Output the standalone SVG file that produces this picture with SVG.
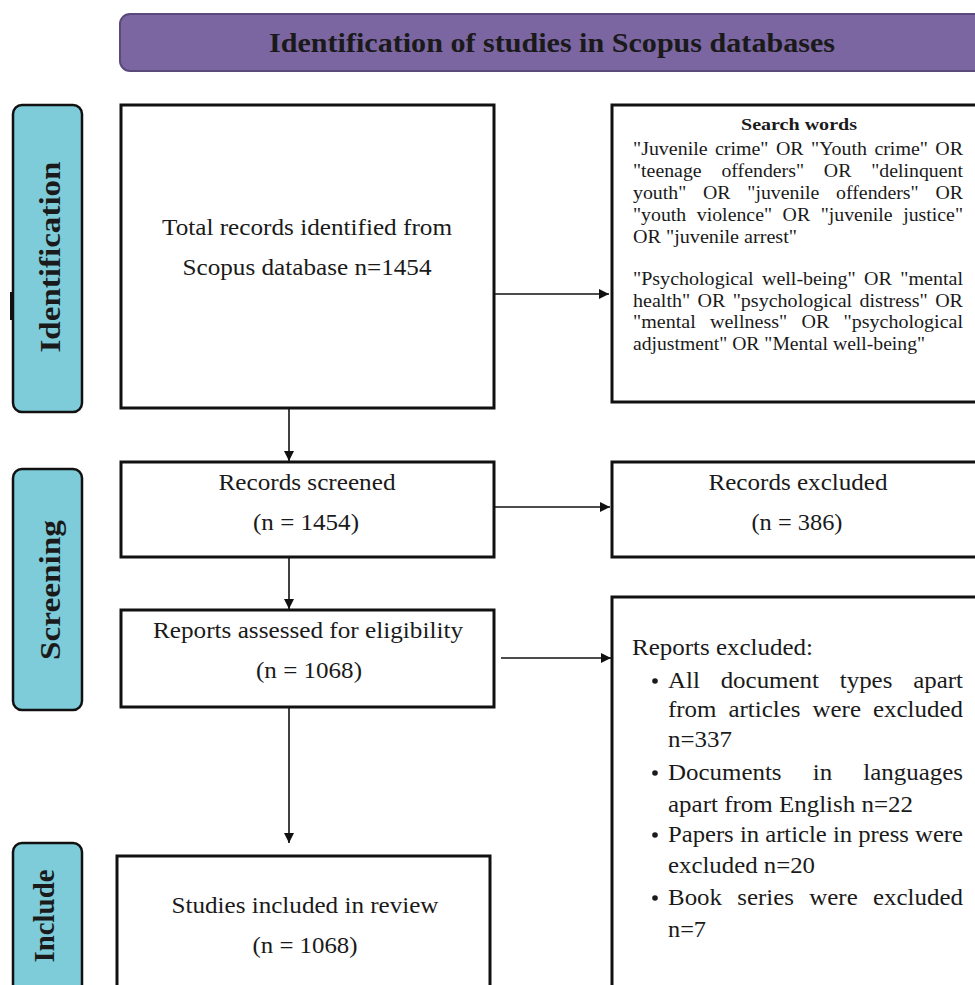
<svg xmlns="http://www.w3.org/2000/svg" width="975" height="985" viewBox="0 0 975 985">
<style>
  text { font-family: "Liberation Serif", "Times New Roman", serif; fill: #1a1a1a; }
  .box { fill: #ffffff; stroke: #111111; stroke-width: 3; }
  .stage { fill: #7ecbd9; stroke: #111111; stroke-width: 2.5; }
  .stagetxt { font-weight: bold; font-size: 30px; text-anchor: middle; }
  .mid { font-size: 22.5px; text-anchor: middle; }
  .sw { font-size: 18px; }
  .rep { font-size: 23px; }
  .conn { stroke: #111111; stroke-width: 1.6; fill: none; marker-end: url(#arr); }
</style>
<defs>
  <marker id="arr" viewBox="0 0 10 10" refX="10" refY="5" markerWidth="10" markerHeight="10" markerUnits="userSpaceOnUse" orient="auto">
    <path d="M0,0 L10,5 L0,10 z" fill="#111111"/>
  </marker>
</defs>
<rect width="975" height="985" fill="#ffffff"/>

<g id="banner">
  <rect x="120" y="14" width="870" height="57" rx="10" fill="#7b66a2" stroke="#5a4a7c" stroke-width="2"/>
  <text x="552" y="52" font-size="27" font-weight="bold" text-anchor="middle" textLength="566" lengthAdjust="spacingAndGlyphs">Identification of studies in Scopus databases</text>
</g>

<g id="stage-identification">
  <rect x="10" y="292" width="3" height="28" fill="#111111"/>
  <rect class="stage" x="13" y="105" width="69" height="307" rx="9"/>
  <text class="stagetxt" transform="translate(60,257) rotate(-90)" textLength="191" lengthAdjust="spacingAndGlyphs">Identification</text>
</g>
<g id="stage-screening">
  <rect class="stage" x="13" y="469" width="69" height="241" rx="9"/>
  <text class="stagetxt" transform="translate(60,590) rotate(-90)" textLength="140" lengthAdjust="spacingAndGlyphs">Screening</text>
</g>
<g id="stage-include">
  <rect class="stage" x="13" y="843" width="69" height="160" rx="9"/>
  <text class="stagetxt" transform="translate(54,916) rotate(-90)" textLength="93" lengthAdjust="spacingAndGlyphs">Include</text>
</g>

<g id="total-records">
  <rect class="box" x="121" y="105" width="373" height="303"/>
  <text class="mid" x="307" y="235" textLength="290" lengthAdjust="spacingAndGlyphs">Total records identified from</text>
  <text class="mid" x="307" y="275" textLength="249" lengthAdjust="spacingAndGlyphs">Scopus database n=1454</text>
</g>

<g id="search-words">
  <rect class="box" x="612" y="105" width="375" height="297"/>
  <text x="799" y="130" font-size="17" font-weight="bold" text-anchor="middle" textLength="116" lengthAdjust="spacingAndGlyphs">Search words</text>
  <text class="sw" x="633" y="155" word-spacing="2.2" textLength="330" lengthAdjust="spacingAndGlyphs">"Juvenile crime" OR "Youth crime" OR</text>
  <text class="sw" x="633" y="177" word-spacing="13.5" textLength="330" lengthAdjust="spacingAndGlyphs">"teenage offenders" OR "delinquent</text>
  <text class="sw" x="633" y="199" word-spacing="10.7" textLength="330" lengthAdjust="spacingAndGlyphs">youth" OR "juvenile offenders" OR</text>
  <text class="sw" x="633" y="221" word-spacing="5.1" textLength="330" lengthAdjust="spacingAndGlyphs">"youth violence" OR "juvenile justice"</text>
  <text class="sw" x="633" y="243" textLength="164" lengthAdjust="spacingAndGlyphs">OR "juvenile arrest"</text>
  <text class="sw" x="633" y="285" word-spacing="3" textLength="330" lengthAdjust="spacingAndGlyphs">"Psychological well-being" OR "mental</text>
  <text class="sw" x="633" y="307" word-spacing="2.1" textLength="330" lengthAdjust="spacingAndGlyphs">health" OR "psychological distress" OR</text>
  <text class="sw" x="633" y="328" word-spacing="8.3" textLength="330" lengthAdjust="spacingAndGlyphs">"mental wellness" OR "psychological</text>
  <text class="sw" x="633" y="350" textLength="292" lengthAdjust="spacingAndGlyphs">adjustment" OR "Mental well-being"</text>
</g>

<g id="records-screened">
  <rect class="box" x="121" y="462" width="373" height="95"/>
  <text class="mid" x="307" y="490" textLength="177" lengthAdjust="spacingAndGlyphs">Records screened</text>
  <text class="mid" x="306" y="530" textLength="106" lengthAdjust="spacingAndGlyphs">(n = 1454)</text>
</g>

<g id="records-excluded">
  <rect class="box" x="612" y="462" width="375" height="95"/>
  <text class="mid" x="798" y="490" textLength="179" lengthAdjust="spacingAndGlyphs">Records excluded</text>
  <text class="mid" x="797" y="530" textLength="91" lengthAdjust="spacingAndGlyphs">(n = 386)</text>
</g>

<g id="reports-assessed">
  <rect class="box" x="121" y="610" width="373" height="97"/>
  <text class="mid" x="308" y="638" textLength="310" lengthAdjust="spacingAndGlyphs">Reports assessed for eligibility</text>
  <text class="mid" x="309" y="678" textLength="106" lengthAdjust="spacingAndGlyphs">(n = 1068)</text>
</g>

<g id="reports-excluded">
  <rect class="box" x="612" y="597" width="375" height="400"/>
  <text class="rep" x="632" y="655" textLength="181" lengthAdjust="spacingAndGlyphs">Reports excluded:</text>
  <circle cx="655" cy="681" r="2.8" fill="#1a1a1a"/>
  <text class="rep" x="668" y="688" word-spacing="13.4" textLength="295" lengthAdjust="spacingAndGlyphs">All document types apart</text>
  <text class="rep" x="668" y="717" word-spacing="5.3" textLength="295" lengthAdjust="spacingAndGlyphs">from articles were excluded</text>
  <text class="rep" x="668" y="747" textLength="64" lengthAdjust="spacingAndGlyphs">n=337</text>
  <circle cx="655" cy="773" r="2.8" fill="#1a1a1a"/>
  <text class="rep" x="668" y="780" word-spacing="23" textLength="295" lengthAdjust="spacingAndGlyphs">Documents in languages</text>
  <text class="rep" x="668" y="812" textLength="245" lengthAdjust="spacingAndGlyphs">apart from English n=22</text>
  <circle cx="655" cy="835" r="2.8" fill="#1a1a1a"/>
  <text class="rep" x="668" y="842" textLength="295" lengthAdjust="spacingAndGlyphs">Papers in article in press were</text>
  <text class="rep" x="668" y="873" textLength="147" lengthAdjust="spacingAndGlyphs">excluded n=20</text>
  <circle cx="655" cy="898" r="2.8" fill="#1a1a1a"/>
  <text class="rep" x="668" y="905" word-spacing="8.3" textLength="295" lengthAdjust="spacingAndGlyphs">Book series were excluded</text>
  <text class="rep" x="668" y="937" textLength="38" lengthAdjust="spacingAndGlyphs">n=7</text>
</g>

<g id="studies-included">
  <rect class="box" x="117" y="856" width="373" height="150"/>
  <text class="mid" x="305" y="913" textLength="267" lengthAdjust="spacingAndGlyphs">Studies included in review</text>
  <text class="mid" x="305" y="953" textLength="105" lengthAdjust="spacingAndGlyphs">(n = 1068)</text>
</g>

<g id="connectors">
  <line class="conn" x1="495" y1="294" x2="609" y2="294"/>
  <line class="conn" x1="289" y1="409" x2="289" y2="461"/>
  <line class="conn" x1="495" y1="507" x2="610" y2="507"/>
  <line class="conn" x1="289" y1="558" x2="289" y2="609"/>
  <line class="conn" x1="501" y1="658" x2="611" y2="658"/>
  <line class="conn" x1="289" y1="708" x2="289" y2="843"/>
</g>
</svg>
